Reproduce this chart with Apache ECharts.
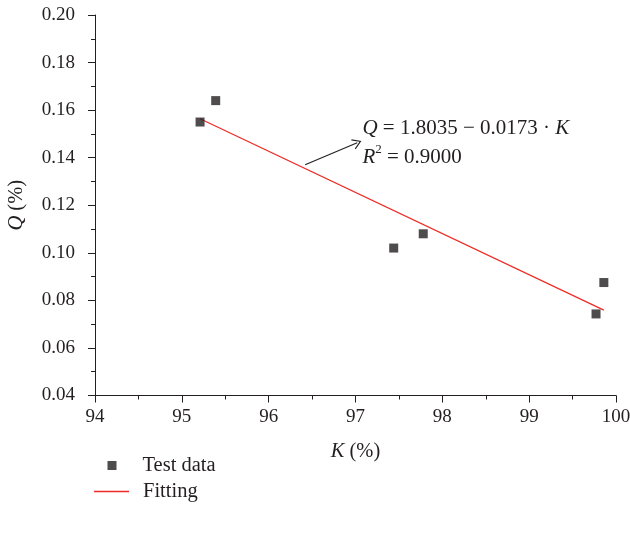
<!DOCTYPE html>
<html><head><meta charset="utf-8">
<script src="https://cdn.jsdelivr.net/npm/echarts@6/dist/echarts.min.js"></script>
<style>html,body{margin:0;padding:0;background:#fff}#c{width:630px;height:534px}</style>
</head><body><div id="c"></div>
<script>
// Data
const testK = [95.21, 95.39, 97.44, 97.78, 99.77, 99.86];
const testQ = [0.155, 0.164, 0.102, 0.108, 0.0743, 0.0875];
const fitK = [95.21, 99.86];
const fitQ = [0.1564, 0.0759];
const xTicks = [94, 95, 96, 97, 98, 99, 100];
const yTicks = [0.04, 0.06, 0.08, 0.10, 0.12, 0.14, 0.16, 0.18, 0.20];
const arrowFrom = [96.42, 0.1370];
const arrowTo = [97.02, 0.1463];
const eqAnchor = [97.08, 0.1585];
const eqText = '{i|Q} = 1.8035 − 0.0173 · {i|K}\n{i|R}{sup|2} = 0.9000';

const FONT = '"Liberation Serif", "DejaVu Serif", serif';
const INK = '#231f20';
const RED = '#ee2a24';

const chart = echarts.init(document.getElementById('c'), null, {renderer: 'canvas'});
const axisCommon = {
  type: 'value',
  axisLine: {show: true, lineStyle: {color: INK, width: 1}},
  axisTick: {show: true, inside: false, length: 7, lineStyle: {color: INK}},
  minorTick: {show: true, splitNumber: 2, length: 4, lineStyle: {color: INK}},
  splitLine: {show: false},
  minorSplitLine: {show: false},
  nameTextStyle: {fontFamily: FONT, fontSize: 20.5, color: INK,
    rich: {i: {fontFamily: FONT, fontSize: 20.5, fontStyle: 'italic', color: INK}}}
};
chart.setOption({
  animation: false,
  backgroundColor: '#fff',
  grid: {left: 95, top: 15, width: 521, height: 380.5, containLabel: false, outerBoundsMode: 'none'},
  xAxis: Object.assign({}, axisCommon, {
    min: xTicks[0], max: xTicks[xTicks.length - 1], interval: 1,
    axisLabel: {fontFamily: FONT, fontSize: 19, color: INK, margin: 12,
      formatter: v => xTicks.includes(v) ? String(v) : ''},
    name: '{i|K} (%)', nameLocation: 'middle', nameGap: 46
  }),
  yAxis: Object.assign({}, axisCommon, {
    min: yTicks[0], max: yTicks[yTicks.length - 1], interval: 0.02,
    axisLabel: {fontFamily: FONT, fontSize: 19, color: INK, margin: 20,
      formatter: v => v.toFixed(2)},
    name: '{i|Q} (%)', nameLocation: 'middle', nameGap: 68, nameRotate: 90
  }),
  legend: [
    {data: [{name: 'Test data', icon: 'rect', itemStyle: {color: INK}}],
     orient: 'vertical', left: 102.5, top: 450,
     itemWidth: 9, itemHeight: 9,
     textStyle: {fontFamily: FONT, fontSize: 20.5, color: INK, padding: [0, 0, 0, 21]}},
    {data: [{name: 'Fitting', icon: 'rect',
             itemStyle: {color: RED, borderColor: RED, borderWidth: 0, opacity: 1},
             lineStyle: {color: RED, width: 1.2}}],
     orient: 'vertical', left: 89, top: 476,
     itemWidth: 35, itemHeight: 1.4,
     itemStyle: {color: RED, borderColor: RED, borderWidth: 0},
     lineStyle: {color: RED},
     textStyle: {fontFamily: FONT, fontSize: 20.5, color: INK, padding: [0, 0, 0, 9]}}
  ],
  series: [
    {name: 'Test data', type: 'scatter', symbol: 'rect', symbolSize: 9,
     itemStyle: {color: INK},
     data: testK.map((k, i) => [k, testQ[i]]), z: 3},
    {name: 'Fitting', type: 'line', symbol: 'none', showSymbol: false,
     lineStyle: {color: RED, width: 1.2}, itemStyle: {color: RED},
     data: fitK.map((k, i) => [k, fitQ[i]]), z: 2,
     markLine: {silent: true, animation: false,
       symbol: ['none', 'path://M0,10 L5,0 L10,10 L9,10.6 L5,2.4 L1,10.6 Z'],
       symbolSize: [11, 9],
       label: {show: false},
       lineStyle: {color: INK, width: 1.1, type: 'solid'},
       data: [[{coord: arrowFrom}, {coord: arrowTo}]]}
    }
  ]
});
const p = chart.convertToPixel({gridIndex: 0}, eqAnchor);
chart.setOption({
  graphic: [{type: 'text', left: p[0], top: p[1], z: 10,
    style: {text: eqText, fontFamily: FONT, fontSize: 21, fill: INK, lineHeight: 29,
      rich: {
        i: {fontFamily: FONT, fontSize: 21, fontStyle: 'italic', fill: INK, lineHeight: 29},
        sup: {fontFamily: FONT, fontSize: 13, fill: INK, verticalAlign: 'top', lineHeight: 29, padding: [0, 0, 8, 0]}
      }}}]
});
</script></body></html>
